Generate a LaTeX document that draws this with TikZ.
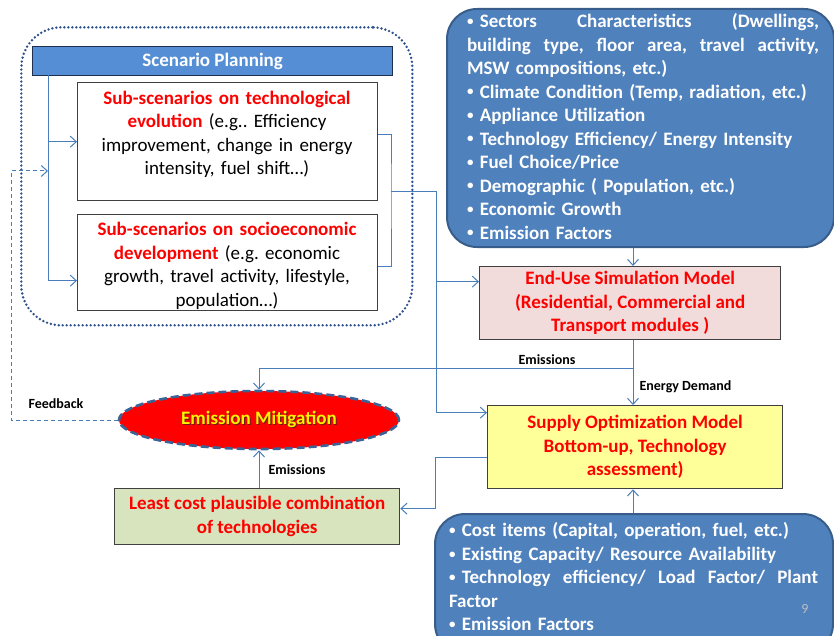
\documentclass[tikz,border=0pt]{standalone}
\usepackage{fontspec}
\setmainfont{Carlito}
\usetikzlibrary{arrows.meta,shapes.geometric}

\definecolor{linkblue}{HTML}{4A7EBB}
\definecolor{dotblue}{HTML}{2F528F}
\definecolor{headblue}{HTML}{558ED5}
\definecolor{headedge}{HTML}{1F2F4F}
\definecolor{panelblue}{HTML}{4F81BD}
\definecolor{paneledge}{HTML}{385D8A}
\definecolor{boxedge}{HTML}{404040}
\definecolor{pinkfill}{HTML}{F2DCDB}
\definecolor{yellowfill}{HTML}{FFFF99}
\definecolor{greenfill}{HTML}{D7E4BD}
\definecolor{ellipseedge}{HTML}{3A6396}
\definecolor{shadowred}{HTML}{6E1A1A}
\definecolor{pagegrey}{HTML}{BFBFBF}

\newcommand\shadowed[1]{\makebox[0pt][l]{\hspace{1pt}\raisebox{-1pt}{\color{shadowred}#1}}#1}
\newcommand\bul{\raisebox{0.25ex}{\fontsize{13}{13}\selectfont•}}
\newcommand\spreadline[2]{\leavevmode\hbox to #1{#2}}

\begin{document}
\frenchspacing
\begin{tikzpicture}[x=1pt,y=-1pt,
  body/.style={font=\fontsize{19}{23.5}\selectfont},
  boldbody/.style={font=\fontsize{19}{23.5}\selectfont\bfseries},
  small/.style={font=\fontsize{14}{16}\selectfont\bfseries},
  plainbox/.style={draw=boxedge,line width=1.3pt,anchor=north west,inner sep=0pt},
  panel/.style={draw=paneledge,fill=panelblue,line width=2pt,rounded corners=30pt,anchor=north west,inner sep=0pt},
  conn/.style={draw=linkblue,line width=1pt,-{Straight Barb[length=6pt,width=11pt]}},
  plainconn/.style={draw=linkblue,line width=1pt},
  feedconn/.style={draw=linkblue,line width=1pt,dash pattern=on 4pt off 3pt,-{Straight Barb[length=6pt,width=11pt]}},
]
\useasboundingbox (0,0) rectangle (834,636);

% Scenario planning group
\node[draw=dotblue,line width=2.7pt,dash pattern=on 0pt off 4pt,line cap=round,
      rounded corners=40pt,anchor=north west,minimum width=391pt,minimum height=298pt,inner sep=0pt]
      (group) at (20,26) {};
\node[draw=headedge,fill=headblue,line width=1.3pt,anchor=north west,minimum width=360pt,minimum height=29pt,
      inner sep=0pt,boldbody,text=white] (head) at (32,46) {Scenario Planning};

\node[plainbox,fill=white,minimum width=300pt,minimum height=118pt] (b1) at (77,82) {};
\node[body,text width=300pt,align=center,inner sep=0pt] (b1t) at (227,134.5)
  {{\color{red}\bfseries Sub-scenarios on technological\\ evolution} (e.g.. Efficiency\\
   improvement, change in energy\\ intensity, fuel shift…)};

\node[plainbox,fill=white,minimum width=300pt,minimum height=96pt] (b2) at (77,214) {};
\node[body,text width=300pt,align=center,inner sep=0pt] (b2t) at (227,266)
  {{\color{red}\bfseries Sub-scenarios on socioeconomic\\ development} (e.g. economic\\
   growth, travel activity, lifestyle,\\ population…)};

% Input data panels
\node[panel,minimum width=387pt,minimum height=238pt] (sect) at (446,8) {};
\node[boldbody,text=white,text width=352pt,align=left,inner sep=0pt] (sectt) at (643,126.5)
  {\spreadline{352pt}{\bul\ Sectors\hfill Characteristics\hfill (Dwellings,}\\
   \spreadline{352pt}{building\hfill type,\hfill floor\hfill area,\hfill travel\hfill activity,}\\
   MSW compositions, etc.)\\
   \bul\ Climate Condition (Temp, radiation, etc.)\\
   \bul\ Appliance Utilization\\
   \bul\ Technology Efficiency/ Energy Intensity\\
   \bul\ Fuel Choice/Price\\
   \bul\ Demographic ( Population, etc.)\\
   \bul\ Economic Growth\\
   \bul\ Emission Factors};

\node[panel,minimum width=398pt,minimum height=140pt] (costs) at (434,513) {};
\node[boldbody,text=white,text width=369pt,align=left,inner sep=0pt] (costst) at (633.5,577)
  {\bul\ Cost items (Capital, operation, fuel, etc.)\\
   \bul\ Existing Capacity/ Resource Availability\\
   \spreadline{369pt}{\bul\ Technology\hfill efficiency/\hfill Load\hfill Factor/\hfill Plant}\\
   Factor\\
   \bul\ Emission Factors};
\node[font=\fontsize{14}{16}\selectfont,text=pagegrey,inner sep=0pt] (pgno) at (805,609) {9};

% Models
\node[plainbox,fill=pinkfill,minimum width=301pt,minimum height=73pt,boldbody,text=red,align=center]
  (eu) at (479,266) {End-Use Simulation Model\\ (Residential, Commercial and\\ Transport modules )};
\node[plainbox,fill=yellowfill,minimum width=295pt,minimum height=83pt,boldbody,text=red,align=center]
  (sup) at (487,405) {Supply Optimization Model\\ Bottom-up, Technology\\ assessment)};
\node[plainbox,fill=greenfill,minimum width=285pt,minimum height=56pt,boldbody,text=red,align=center]
  (lc) at (114,488) {Least cost plausible combination\\ of technologies};

\node[ellipse,fill=red,draw=ellipseedge,line width=2.6pt,dash pattern=on 8pt off 4pt,
      minimum width=280pt,minimum height=58pt,inner sep=0pt,
      font=\fontsize{19}{22}\selectfont\bfseries,text=yellow] (ell) at (259,420) {\shadowed{Emission Mitigation}};

% Connectors
\coordinate (trunk) at (48,75);
\coordinate (col) at (633,0);
\coordinate (brk) at (391,192);
\coordinate (jn) at (436,192);
\coordinate (emj) at (633,368);
\coordinate (fbc) at (11,420);

\draw[conn] (trunk) |- (b1.west);
\draw[conn] (trunk) |- ([yshift=-18pt]b2.west);
\draw[plainconn] ([yshift=7pt]b1.east) -| (brk) |- ([yshift=-4pt]b2.east);
\draw[conn] (brk) -- (jn) |- ([yshift=34.5pt]sup.west);
\draw[conn] (jn) |- ([yshift=21.5pt]eu.west);

\draw[conn] (sect.south -| col) -- (eu.north -| col);
\draw[conn] (eu.south -| col) -- (sup.north -| col);
\draw[conn] (emj) -| (ell.north);
\draw[conn] (costs.north -| col) -- (sup.south -| col);
\draw[conn] ([yshift=-10.5pt]sup.west) -- ++(-52,0) |- ([yshift=8pt]lc.east);
\draw[conn] (lc.north -| ell.south) -- (ell.south);
\draw[feedconn] (ell.west) -- (fbc) |- (trunk |- 0,171);

% Connector labels
\node[small] (lemi1) at (547,360) {Emissions};
\node[small,anchor=west] (ldem) at (636,387) {Energy Demand};
\node[small] (lemi2) at (297,470) {Emissions};
\node[small] (lfb) at (56,404) {Feedback};
\end{tikzpicture}
\end{document}
